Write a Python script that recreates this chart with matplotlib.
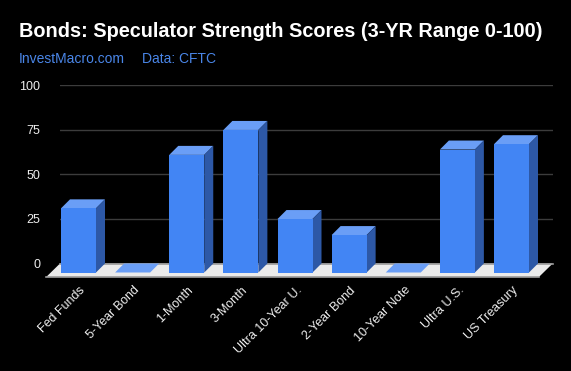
import matplotlib
matplotlib.use("Agg")
import matplotlib.pyplot as plt
from matplotlib.patches import Polygon
from matplotlib.transforms import ScaledTranslation

categories = ["Fed Funds", "5-Year Bond", "1-Month", "3-Month", "Ultra 10-Year U.",
              "2-Year Bond", "10-Year Note", "Ultra U.S.", "US Treasury"]
values = [36, 0, 66, 80, 30, 21, 0, 69, 72]
yticks = [0, 25, 50, 75, 100]

title = "Bonds: Speculator Strength Scores (3-YR Range 0-100)"
subtitle1 = "InvestMacro.com"
subtitle2 = "Data: CFTC"

W, H, DPI = 571, 371, 100
plt.rcParams['font.family'] = ['Liberation Sans', 'DejaVu Sans']

fig = plt.figure(figsize=(W / DPI, H / DPI), dpi=DPI, facecolor='black')
# back plane in pixels
x0, x1 = 60.0, 552.7
yb, yt = 263.5, 85.3
slot = 54.125           # pixel spacing between categories
c0 = 87.5               # pixel x of first category (back plane)
ax = fig.add_axes([x0 / W, (H - yb) / H, (x1 - x0) / W, (yb - yt) / H])
ax.set_facecolor('none')
n = len(categories)
ax.set_xlim((x0 - c0) / slot, (x1 - c0) / slot)
ax.set_ylim(0, 100)
for s in ax.spines.values():
    s.set_visible(False)
xa, xb = ax.get_xlim()

pxx = slot
pxy = (yb - yt) / 100.0

def off(px_dx, px_dy):
    return px_dx / pxx, px_dy / pxy

# gridlines
for t in yticks[1:]:
    ax.axhline(t, color='#3c3c3c', lw=1.0, zorder=0)

# floor
fdx, fdy = off(-14, -13.7)
floor = Polygon([(xa, 0), (xb, 0), (xb + fdx, fdy), (xa + fdx, fdy)],
                closed=True, facecolor='#ebebeb', edgecolor='none', clip_on=False, zorder=1)
ax.add_patch(floor)
ax.plot([xa, xb], [0, 0], color='#9a9a9a', lw=1.2, clip_on=False, zorder=1.5)
ax.plot([xa + fdx, xb + fdx], [fdy, fdy], color='#9a9a9a', lw=1.2, clip_on=False, zorder=1.5)

# bars
bw = 35.0 / pxx
ddx, ddy = off(-9, -9)
c_front, c_top, c_side = '#4285f4', '#6a9ef6', '#2d58a6'
for i, v in enumerate(values):
    l, r = i - bw / 2, i + bw / 2
    ax.add_patch(Polygon([(l, v), (r, v), (r + ddx, v + ddy), (l + ddx, v + ddy)],
                         closed=True, facecolor=c_top, edgecolor='none', clip_on=False, zorder=2))
    if v > 0:
        ax.add_patch(Polygon([(r, 0), (r, v), (r + ddx, v + ddy), (r + ddx, ddy)],
                             closed=True, facecolor=c_side, edgecolor='none', clip_on=False, zorder=2))
        ax.add_patch(Polygon([(l + ddx, ddy), (r + ddx, ddy), (r + ddx, v + ddy), (l + ddx, v + ddy)],
                             closed=True, facecolor=c_front, edgecolor='none', clip_on=False, zorder=3))

# y ticks
ax.set_yticks(yticks)
ax.set_yticklabels([str(t) for t in yticks], color='#eeeeee', fontsize=9)
ax.tick_params(axis='y', length=0, pad=14)

# x ticks
ax.set_xticks(range(n))
ax.set_xticklabels(categories, rotation=45, ha='right', va='center',
                   rotation_mode='anchor', color='#eeeeee', fontsize=9)
ax.tick_params(axis='x', length=0, pad=18)
for lab in ax.get_xticklabels():
    lab.set_transform(lab.get_transform() + ScaledTranslation(-4 / DPI, 0, fig.dpi_scale_trans))

fig.text(19 / W, (H - 37.3) / H, title, color='white', fontsize=14.3, fontweight='bold',
         ha='left', va='baseline')
fig.text(19 / W, (H - 63.3) / H, subtitle1, color='#4a86e8', fontsize=10,
         ha='left', va='baseline')
fig.text(141.5 / W, (H - 63.3) / H, subtitle2, color='#4a86e8', fontsize=10,
         ha='left', va='baseline')

fig.savefig('out.png', dpi=DPI, facecolor='black')
